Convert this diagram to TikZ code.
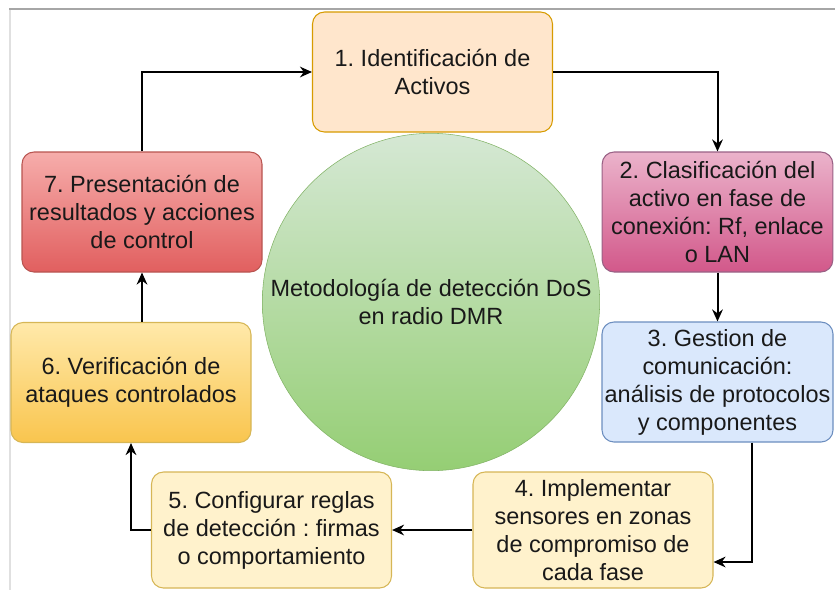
\documentclass[tikz,border=0pt]{standalone}
\usepackage{fontspec}
\setmainfont{Liberation Sans}
\usetikzlibrary{arrows.meta}
\frenchspacing

\definecolor{naranjaB}{HTML}{D79B00}
\definecolor{naranjaF}{HTML}{FFE6CC}
\definecolor{rosaB}{HTML}{996185}
\definecolor{rosaA}{HTML}{EBB3CB}
\definecolor{rosaZ}{HTML}{D2588A}
\definecolor{azulB}{HTML}{6C8EBF}
\definecolor{azulF}{HTML}{DAE8FC}
\definecolor{cremaB}{HTML}{D6B656}
\definecolor{cremaF}{HTML}{FFF2CC}
\definecolor{oroA}{HTML}{FFE9AA}
\definecolor{oroZ}{HTML}{F9C54E}
\definecolor{rojoB}{HTML}{B85450}
\definecolor{rojoA}{HTML}{F6ADAB}
\definecolor{rojoZ}{HTML}{E15F5F}
\definecolor{verdeB}{HTML}{82B366}
\definecolor{verdeA}{HTML}{D5E8D4}
\definecolor{verdeZ}{HTML}{95CE74}

\begin{document}
\begin{tikzpicture}
[x=0.75pt,y=-0.75pt,
every node/.style={font=\fontsize{17.6}{21}\selectfont,text=black!90,align=center,inner sep=2pt},
paso/.style={rectangle,rounded corners=9pt,minimum width=180pt,minimum height=90pt,line width=0.8pt},
flecha/.style={-{Stealth[length=9pt,width=8pt]},line width=1.5pt}]
\useasboundingbox (0,0) rectangle (835,590);
\draw[line width=1.5pt,black!35] (9,9) -- (835,9);
\draw[line width=1.5pt,black!12] (10,10) -- (10,590);
\node[circle,minimum size=253pt,draw=verdeB,top color=verdeA,bottom color=verdeZ] (meta) at (431,302) {Metodología de detección DoS\\en radio DMR};
\node[paso,draw=naranjaB,fill=naranjaF] (n1) at (432.5,72) {1. Identificación de\\Activos};
\node[paso,minimum width=173pt,draw=rosaB,top color=rosaA,bottom color=rosaZ] (n2) at (717.5,212) {2. Clasificación del\\activo en fase de\\conexión: Rf, enlace\\o LAN};
\node[paso,minimum width=173pt,draw=azulB,fill=azulF] (n3) at (717.5,382) {3. Gestion de\\comunicación:\\análisis de protocolos\\y componentes};
\node[paso,minimum height=87pt,draw=cremaB,fill=cremaF] (n4) at (593,530) {4. Implementar\\sensores en zonas\\de compromiso de\\cada fase};
\node[paso,minimum height=87pt,draw=cremaB,fill=cremaF] (n5) at (271.5,530) {5. Configurar reglas\\de detección : firmas\\o comportamiento};
\node[paso,draw=cremaB,top color=oroA,bottom color=oroZ] (n6) at (131,382.5) {6. Verificación de\\ataques controlados};
\node[paso,draw=rojoB,top color=rojoA,bottom color=rojoZ] (n7) at (142,212) {7. Presentación de\\resultados y acciones\\de control};
\draw[flecha] (n7.north) |- (n1.west);
\draw[flecha] (n1.east) -| (n2.north);
\draw[flecha] (n2.south) -- (n3.north);
\draw[flecha] ([xshift=26pt]n3.south) |- ([yshift=-24pt]n4.east);
\draw[flecha] (n4.west) -- (n5.east);
\draw[flecha] (n5.west) -| (n6.south);
\draw[flecha] (n7.south |- n6.north) -- (n7.south);
\end{tikzpicture}
\end{document}
